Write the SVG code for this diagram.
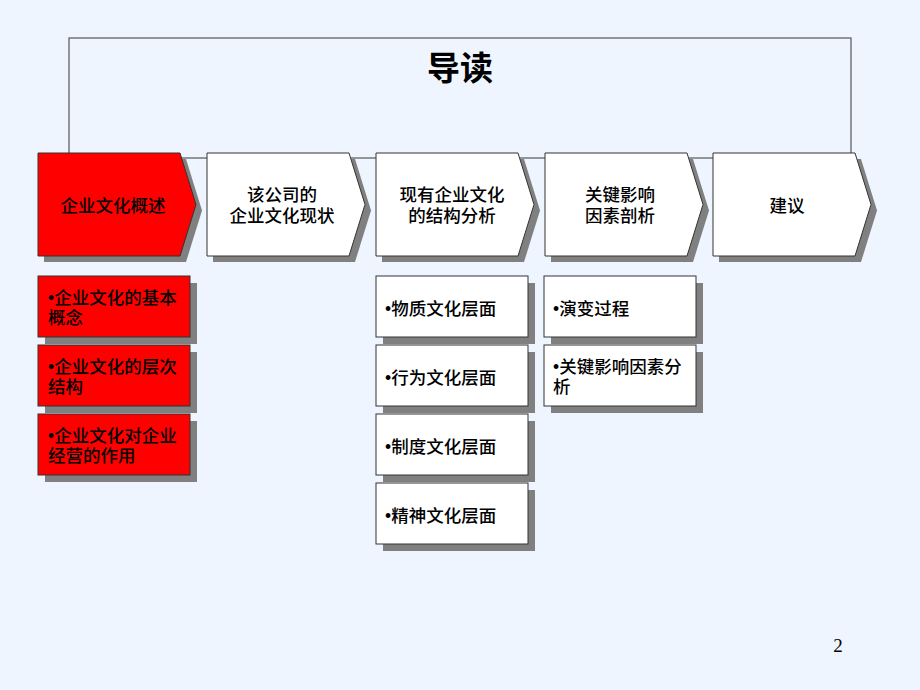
<svg xmlns="http://www.w3.org/2000/svg" width="920" height="690" viewBox="0 0 920 690">
<style>
.bg{fill:#EEF5FE}
.frame{fill:none;stroke:#555;stroke-width:1.2}
.sh{fill:#808080}
.w{fill:#FFFFFF;stroke:#333;stroke-width:1}
.r{fill:#FF0000;stroke:#333;stroke-width:1}
.t{font-family:"Liberation Sans","Noto Sans CJK SC",sans-serif;font-size:17.5px;font-weight:500;fill:#000}
.c{text-anchor:middle}
.title{font-family:"Liberation Sans","Noto Sans CJK SC",sans-serif;font-size:33px;font-weight:bold;fill:#000;text-anchor:middle}
.pg{font-family:"Liberation Serif",serif;font-size:19px;fill:#000;text-anchor:middle}
</style>
<defs>
<path id="chev" d="M0,0 H142 L158,51.5 L142,103 H0 Z"/>
<rect id="box" x="0" y="0" width="152" height="61"/>
</defs>
<rect class="bg" x="0" y="0" width="920" height="690"/>
<g id="header">
<rect class="frame" x="69" y="38" width="782" height="120"/>
<text class="title" x="460" y="80">导读</text>
</g>
<g id="chevron1">
<use href="#chev" class="sh" x="44" y="159"/>
<use href="#chev" class="r" x="38" y="153"/>
<text class="t c" x="113" y="212">企业文化概述</text>
</g>
<g id="chevron2">
<use href="#chev" class="sh" x="213" y="159"/>
<use href="#chev" class="w" x="207" y="153"/>
<text class="t c" x="282" y="201">该公司的</text>
<text class="t c" x="282" y="222">企业文化现状</text>
</g>
<g id="chevron3">
<use href="#chev" class="sh" x="382" y="159"/>
<use href="#chev" class="w" x="376" y="153"/>
<text class="t c" x="452" y="201">现有企业文化</text>
<text class="t c" x="452" y="222">的结构分析</text>
</g>
<g id="chevron4">
<use href="#chev" class="sh" x="551" y="159"/>
<use href="#chev" class="w" x="545" y="153"/>
<text class="t c" x="620" y="201">关键影响</text>
<text class="t c" x="620" y="222">因素剖析</text>
</g>
<g id="chevron5">
<use href="#chev" class="sh" x="719" y="159"/>
<use href="#chev" class="w" x="713" y="153"/>
<text class="t c" x="787" y="212">建议</text>
</g>
<g id="c1b1">
<use href="#box" class="sh" x="45" y="283"/>
<use href="#box" class="r" x="38" y="276"/>
<text class="t" x="48" y="304">•企业文化的基本</text>
<text class="t" x="48" y="324">概念</text>
</g>
<g id="c1b2">
<use href="#box" class="sh" x="45" y="352"/>
<use href="#box" class="r" x="38" y="345"/>
<text class="t" x="48" y="373">•企业文化的层次</text>
<text class="t" x="48" y="393">结构</text>
</g>
<g id="c1b3">
<use href="#box" class="sh" x="45" y="421"/>
<use href="#box" class="r" x="38" y="414"/>
<text class="t" x="48" y="442">•企业文化对企业</text>
<text class="t" x="48" y="462">经营的作用</text>
</g>
<g id="c3b1">
<use href="#box" class="sh" x="383" y="283"/>
<use href="#box" class="w" x="376" y="276"/>
<text class="t" x="385" y="315">•物质文化层面</text>
</g>
<g id="c3b2">
<use href="#box" class="sh" x="383" y="352"/>
<use href="#box" class="w" x="376" y="345"/>
<text class="t" x="385" y="384">•行为文化层面</text>
</g>
<g id="c3b3">
<use href="#box" class="sh" x="383" y="421"/>
<use href="#box" class="w" x="376" y="414"/>
<text class="t" x="385" y="453">•制度文化层面</text>
</g>
<g id="c3b4">
<use href="#box" class="sh" x="383" y="490"/>
<use href="#box" class="w" x="376" y="483"/>
<text class="t" x="385" y="522">•精神文化层面</text>
</g>
<g id="c4b1">
<use href="#box" class="sh" x="551" y="283"/>
<use href="#box" class="w" x="544" y="276"/>
<text class="t" x="553" y="315">•演变过程</text>
</g>
<g id="c4b2">
<use href="#box" class="sh" x="551" y="352"/>
<use href="#box" class="w" x="544" y="345"/>
<text class="t" x="553" y="373">•关键影响因素分</text>
<text class="t" x="553" y="393">析</text>
</g>
<text class="pg" x="838" y="652">2</text>
</svg>
